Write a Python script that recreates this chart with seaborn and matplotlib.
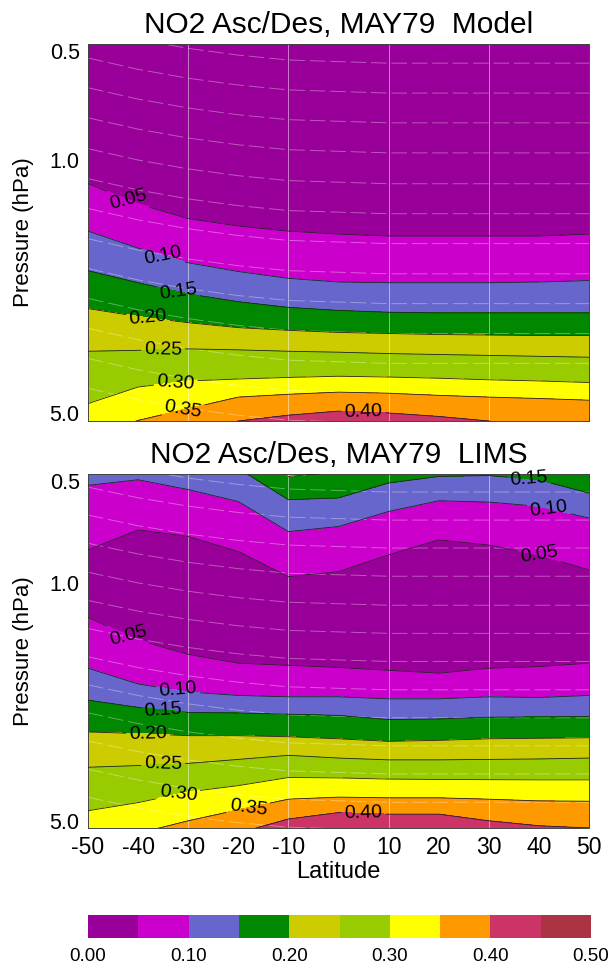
import numpy as np
import matplotlib
matplotlib.use("Agg")
import matplotlib.pyplot as plt
from matplotlib.ticker import FixedLocator, NullFormatter
import seaborn as sns

sns.set_theme(style="ticks")
plt.rcParams["font.family"] = ["Liberation Sans", "DejaVu Sans"]
plt.rcParams["text.color"] = "black"
plt.rcParams["axes.labelcolor"] = "black"

# ---------------------------------------------------------------- data
lats = [-50, -40, -30, -20, -10, 0, 10, 20, 30, 40, 50]
levels = [0.00, 0.05, 0.10, 0.15, 0.20, 0.25, 0.30, 0.35, 0.40, 0.45, 0.50]
band_colors = ["#990099", "#CC00CC", "#6666CC", "#008800", "#CCCC00",
               "#99CC00", "#FFFF00", "#FF9900", "#CC3366", "#AA3344"]
cbar_ticks = [0.00, 0.10, 0.20, 0.30, 0.40, 0.50]
y_major = [0.5, 1.0, 5.0]
y_minor = [0.6, 0.7, 0.8, 0.9, 2.0, 3.0, 4.0]

# Model: pressure (hPa) of each NO2 isopleth along latitude
model_ptop = [0.30] * 11
model_p005 = [1.16, 1.32, 1.45, 1.52, 1.57, 1.60, 1.62, 1.62, 1.62, 1.62, 1.60]
model_p010 = [1.57, 1.75, 1.92, 2.03, 2.12, 2.17, 2.18, 2.18, 2.18, 2.17, 2.15]
model_p015 = [2.02, 2.18, 2.34, 2.46, 2.55, 2.60, 2.63, 2.64, 2.64, 2.64, 2.64]
model_p020 = [2.57, 2.70, 2.81, 2.90, 2.95, 2.99, 3.01, 3.03, 3.04, 3.05, 3.05]
model_p025 = [3.37, 3.35, 3.32, 3.34, 3.37, 3.39, 3.42, 3.44, 3.46, 3.48, 3.50]
model_p030 = [4.70, 4.23, 4.07, 4.02, 3.98, 3.95, 3.97, 4.00, 4.04, 4.07, 4.11]
model_p035 = [5.80, 5.23, 4.85, 4.51, 4.43, 4.37, 4.40, 4.46, 4.51, 4.55, 4.60]
model_p040 = [6.50, 6.00, 5.60, 5.25, 5.06, 4.93, 4.99, 5.10, 5.25, 5.50, 5.70]
model_pbot = [9.0] * 11
model_row_values = [0.02, 0.05, 0.10, 0.15, 0.20, 0.25, 0.30, 0.35, 0.40, 0.45]

# LIMS: NO2 falls to a minimum near 1-1.5 hPa and rises again above it
lims_ptop = [0.20] * 11
lims_up020 = [0.30, 0.32, 0.35, 0.406, 0.486, 0.472, 0.44, 0.43, 0.43, 0.44, 0.45]
lims_up015 = [0.40, 0.42, 0.44, 0.46, 0.569, 0.562, 0.508, 0.486, 0.483, 0.497, 0.544]
lims_up010 = [0.516, 0.497, 0.531, 0.576, 0.706, 0.682, 0.616, 0.573, 0.578, 0.595, 0.644]
lims_up005 = [0.799, 0.698, 0.730, 0.808, 0.958, 0.926, 0.826, 0.747, 0.773, 0.826, 0.915]
lims_pmin = [1.00, 1.00, 1.10, 1.20, 1.30, 1.30, 1.20, 1.15, 1.15, 1.20, 1.25]
lims_lo005 = [1.26, 1.47, 1.62, 1.72, 1.745, 1.77, 1.805, 1.84, 1.78, 1.76, 1.72]
lims_lo010 = [1.78, 1.98, 2.09, 2.14, 2.16, 2.16, 2.19, 2.19, 2.16, 2.17, 2.14]
lims_lo015 = [2.21, 2.32, 2.40, 2.41, 2.43, 2.45, 2.52, 2.51, 2.48, 2.475, 2.47]
lims_lo020 = [2.74, 2.77, 2.81, 2.81, 2.83, 2.87, 2.92, 2.90, 2.87, 2.86, 2.85]
lims_lo025 = [3.48, 3.44, 3.39, 3.30, 3.21, 3.27, 3.31, 3.31, 3.30, 3.29, 3.27]
lims_lo030 = [4.67, 4.42, 4.11, 3.94, 3.73, 3.74, 3.77, 3.78, 3.785, 3.79, 3.79]
lims_lo035 = [5.93, 5.44, 5.00, 4.64, 4.32, 4.26, 4.28, 4.28, 4.32, 4.37, 4.38]
lims_lo040 = [6.30, 5.90, 5.60, 5.43, 4.94, 4.73, 4.78, 4.78, 5.00, 5.17, 5.25]
lims_pbot = [9.0] * 11
lims_row_values = [0.25, 0.20, 0.15, 0.10, 0.05, 0.03, 0.05, 0.10, 0.15,
                   0.20, 0.25, 0.30, 0.35, 0.40, 0.45]

# faint reference surfaces (pressure at 50N and relative shift with latitude)
ref_p50 = [0.54, 0.653, 0.789, 0.955, 1.162, 1.406, 1.70, 2.06, 2.49, 3.01,
           3.64, 4.41, 5.33]
ref_shift = [0.80, 0.86, 0.91, 0.95, 0.98, 0.99, 1.0, 1.0, 1.0, 1.0, 1.0]

# ---------------------------------------------------------------- grids
model_rows = [model_ptop, model_p005, model_p010, model_p015, model_p020,
              model_p025, model_p030, model_p035, model_p040, model_pbot]
lims_rows = [lims_ptop, lims_up020, lims_up015, lims_up010, lims_up005,
             lims_pmin, lims_lo005, lims_lo010, lims_lo015, lims_lo020,
             lims_lo025, lims_lo030, lims_lo035, lims_lo040, lims_pbot]


def build(rows, values):
    P = np.array(rows, dtype=float)
    Z = np.repeat(np.array(values, dtype=float)[:, None], len(lats), axis=1)
    X = np.tile(np.array(lats, dtype=float), (len(rows), 1))
    return X, P, Z


YLIM = (5.25, 0.478)
W = 611.0
H = 965.0
fig = plt.figure(figsize=(W / 100, H / 100), dpi=100)
ax_top = fig.add_axes([88 / W, 1 - 421 / H, 501 / W, 377 / H])
ax_bot = fig.add_axes([88 / W, 1 - 828 / H, 501 / W, 354 / H])
cax = fig.add_axes([88 / W, 1 - 938 / H, 503 / W, 23 / H])


def draw_panel(ax, rows, values, title, labels, show_x):
    X, P, Z = build(rows, values)
    cf = ax.contourf(X, P, Z, levels=levels, colors=band_colors, zorder=1)
    ax.set_yscale("log")

    # faint reference surfaces
    for p50 in ref_p50:
        sns.lineplot(x=lats, y=[p50 * s for s in ref_shift], ax=ax,
                     color="white", linewidth=0.7, alpha=0.35,
                     linestyle=(0, (16, 5)), estimator=None, sort=False,
                     zorder=2)
    for gx in (-30, -10, 10, 30):
        ax.axvline(gx, color="white", linewidth=0.7, alpha=0.5, zorder=2)

    cs = ax.contour(X, P, Z, levels=levels[1:9], colors="#222222",
                    linewidths=0.6, zorder=3)
    positions = [(lat, float(np.interp(lat, lats, arr))) for lat, arr in labels]
    texts = cs.clabel(manual=positions, inline=True, inline_spacing=3,
                      fontsize=14, fmt=lambda v: f"{v:.2f}", colors="black")
    for t in texts:
        t.set_clip_on(False)

    ax.set_xlim(-50, 50)
    ax.set_ylim(*YLIM)
    ax.yaxis.set_major_locator(FixedLocator(y_major))
    ax.set_yticklabels([f"{v:.1f}" for v in y_major])
    ax.yaxis.set_minor_locator(FixedLocator(y_minor))
    ax.yaxis.set_minor_formatter(NullFormatter())
    ax.set_xticks(lats)
    if show_x:
        ax.set_xticklabels([str(v) for v in lats])
        ax.set_xlabel("Latitude", fontsize=17, labelpad=1)
    else:
        ax.set_xticklabels([])
        ax.set_xlabel("")
    ax.set_ylabel("Pressure (hPa)", fontsize=16, labelpad=11)
    ax.set_title(title, fontsize=21.5, pad=8, color="black")
    ax.tick_params(which="major", direction="in", top=True, right=True,
                   length=7, width=0.7, color="#333333", labelcolor="black",
                   pad=6)
    ax.tick_params(axis="y", which="major", labelsize=15.5)
    ax.tick_params(axis="x", which="major", labelsize=16.5)
    ax.tick_params(which="minor", direction="in", left=True, right=True,
                   length=4, width=0.6, color="#333333")
    for sp in ax.spines.values():
        sp.set_linewidth(0.7)
        sp.set_color("#444444")
    return cf


cf = draw_panel(
    ax_top, model_rows, model_row_values, "NO2 Asc/Des, MAY79  Model",
    [(-42, model_p005), (-35, model_p010), (-32, model_p015),
     (-38, model_p020), (-35, model_p025), (-32.5, model_p030),
     (-31, model_p035), (5, model_p040)],
    show_x=False)

draw_panel(
    ax_bot, lims_rows, lims_row_values, "NO2 Asc/Des, MAY79  LIMS",
    [(38, lims_up015), (42, lims_up010), (40, lims_up005),
     (-42, lims_lo005), (-32, lims_lo010), (-35, lims_lo015),
     (-38, lims_lo020), (-35, lims_lo025), (-32, lims_lo030),
     (-18, lims_lo035), (5, lims_lo040)],
    show_x=True)

cb = fig.colorbar(cf, cax=cax, orientation="horizontal", ticks=cbar_ticks)
cb.outline.set_visible(False)
cb.ax.set_xticklabels([f"{t:.2f}" for t in cbar_ticks])
cb.ax.tick_params(length=0, labelsize=13.5, pad=7, labelcolor="black")

fig.savefig("out.png", dpi=100)
